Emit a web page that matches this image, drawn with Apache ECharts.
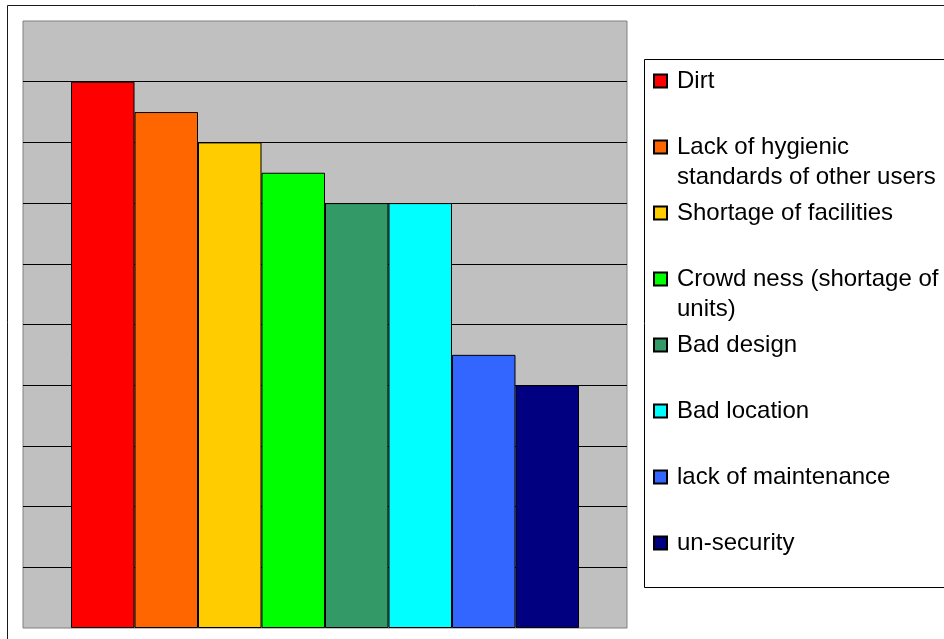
<!DOCTYPE html>
<html>
<head>
<meta charset="utf-8">
<script src="https://cdn.jsdelivr.net/npm/echarts@6/dist/echarts.min.js"></script>
<style>
  html, body { margin: 0; padding: 0; background: #fff; }
  #chart { width: 944px; height: 639px; }
</style>
</head>
<body>
<div id="chart"></div>
<script>
// Problems reported with the public toilets
const categories = [
  'Dirt',
  'Lack of hygienic standards of other users',
  'Shortage of facilities',
  'Crowd ness (shortage of units)',
  'Bad design',
  'Bad location',
  'lack of maintenance',
  'un-security'
];
const values = [9, 8.5, 8, 7.5, 7, 7, 4.5, 4];
// legend captions, wrapped the way they are printed
const legendText = [
  'Dirt',
  'Lack of hygienic\nstandards of other users',
  'Shortage of facilities',
  'Crowd ness (shortage of\nunits)',
  'Bad design',
  'Bad location',
  'lack of maintenance',
  'un-security'
];
const palette = ['#FF0000', '#FF6600', '#FFCC00', '#00FF00', '#339966', '#00FFFF', '#3366FF', '#000080'];
const axisMin = 0, axisMax = 10, axisStep = 1;

const FONT = 'Liberation Sans, Arial, Helvetica, sans-serif';
const LH = 30;        // legend line height
const ROW0 = 81;      // centre of the first legend row
const ROW = 66;       // distance between legend rows

const chart = echarts.init(document.getElementById('chart'), null, { renderer: 'canvas' });

const series = categories.map((name, i) => ({
  name: name,
  type: 'bar',
  data: [values[i]],
  barGap: '0%',
  barCategoryGap: '15.9%',
  itemStyle: { color: palette[i], borderColor: '#000', borderWidth: 1 },
  emphasis: { disabled: true },
  animation: false
}));

// one legend block per entry; wrapped captions get blank leading lines so the
// marker, which is centred on the text block, sits beside their first line
const legends = categories.map((name, i) => {
  const n = legendText[i].split('\n').length;
  const caption = '\n'.repeat(n - 1) + legendText[i];
  return {
    data: [name],
    left: 653,
    top: ROW0 + i * ROW - (2 * n - 1) * LH / 2,
    padding: 0,
    itemWidth: 13,
    itemHeight: 13,
    icon: 'rect',
    selectedMode: false,
    formatter: () => caption,
    textStyle: {
      fontFamily: FONT,
      fontSize: 24,
      color: '#000',
      lineHeight: LH,
      padding: [0, 0, 0, 5],
      backgroundColor: 'rgba(255,255,255,0)'
    }
  };
});

chart.setOption({
  backgroundColor: '#fff',
  animation: false,
  graphic: [
    { type: 'rect', silent: true, z: -1,
      shape: { x: 7.5, y: 5.5, width: 1000, height: 1000 },
      style: { fill: 'none', stroke: '#1a1a1a', lineWidth: 1 } },
    { type: 'rect', silent: true, z: -1,
      shape: { x: 644.5, y: 59.5, width: 400, height: 528 },
      style: { fill: 'none', stroke: '#000', lineWidth: 1 } }
  ],
  grid: {
    left: 23, right: 317, top: 21, bottom: 11,
    show: true,
    backgroundColor: '#C0C0C0',
    borderColor: '#808080',
    borderWidth: 1
  },
  xAxis: {
    type: 'category',
    data: [''],
    axisLine: { show: false },
    axisTick: { show: false },
    axisLabel: { show: false },
    splitLine: { show: false }
  },
  yAxis: {
    type: 'value',
    min: axisMin,
    max: axisMax,
    interval: axisStep,
    axisLine: { show: false },
    axisTick: { show: false },
    axisLabel: { show: false },
    splitLine: {
      show: true,
      showMinLine: false,
      showMaxLine: false,
      lineStyle: { color: '#000', width: 1 }
    }
  },
  legend: legends,
  series: series
});
</script>
</body>
</html>
